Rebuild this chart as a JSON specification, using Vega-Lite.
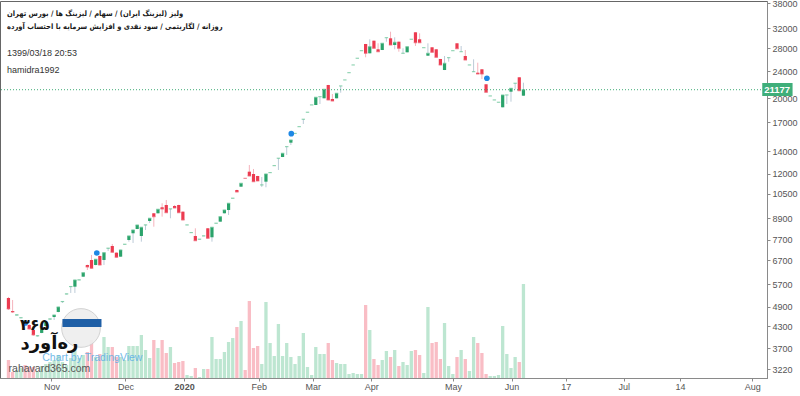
{
  "$schema": "https://vega.github.io/schema/vega-lite/v6.json",
  "width": 767,
  "height": 377,
  "autosize": {"type": "none"},
  "padding": {"left": 0, "top": 1, "right": 33, "bottom": 18},
  "background": "white",
  "config": {
    "view": {"stroke": "#666", "strokeWidth": 1},
    "axis": {"grid": false, "domainColor": "#8a8a8a", "tickColor": "#8a8a8a", "tickSize": 3, "labelColor": "#555", "labelFont": "Liberation Sans", "labelFontSize": 9}
  },
  "title": {
    "text": ["ولیز (لیزینگ ایران) / سهام / لیزینگ ها / بورس تهران", "روزانه / لگاریتمی / سود نقدی و افزایش سرمایه با احتساب آورده"],
    "subtitle": ["1399/03/18 20:53", "hamidra1992"],
    "anchor": "start", "frame": "group", "orient": "top", "offset": -76, "dx": 7,
    "font": "DejaVu Sans Condensed, DejaVu Sans", "fontSize": 7.5, "fontWeight": "bold", "color": "#1a1a1a", "lineHeight": 13,
    "subtitleFont": "Liberation Sans", "subtitleFontSize": 9, "subtitleColor": "#333", "subtitleLineHeight": 17, "subtitlePadding": 19
  },
  "datasets": {
    "candles": [
      {"i":0,"o":5200,"h":5235,"l":4795,"c":4828,"vol":18},
      {"i":1,"o":4763,"h":5130,"l":4699,"c":4731,"vol":6},
      {"i":2,"o":4630,"h":4645,"l":4625,"c":4640,"vol":8},
      {"i":3,"o":4545,"h":4555,"l":4530,"c":4550,"vol":10},
      {"i":4,"o":4440,"h":4450,"l":4405,"c":4415,"vol":13},
      {"i":5,"o":4334,"h":4360,"l":4200,"c":4219,"vol":11},
      {"i":6,"o":4190,"h":4210,"l":4030,"c":4052,"vol":11},
      {"i":7,"o":4020,"h":4040,"l":4010,"c":4030,"vol":6},
      {"i":8,"o":4107,"h":4230,"l":4100,"c":4219,"vol":12},
      {"i":9,"o":4305,"h":4430,"l":4290,"c":4422,"vol":14},
      {"i":10,"o":4505,"h":4520,"l":4500,"c":4515,"vol":16},
      {"i":11,"o":4574,"h":4640,"l":4482,"c":4636,"vol":18},
      {"i":12,"o":4731,"h":4900,"l":4720,"c":4893,"vol":23},
      {"i":13,"o":5065,"h":5080,"l":5027,"c":5075,"vol":16},
      {"i":14,"o":5335,"h":5350,"l":5330,"c":5345,"vol":13},
      {"i":15,"o":5605,"h":5620,"l":5378,"c":5615,"vol":20},
      {"i":16,"o":5611,"h":5880,"l":5378,"c":5870,"vol":28},
      {"i":17,"o":5865,"h":5880,"l":5860,"c":5875,"vol":20},
      {"i":18,"o":6002,"h":6175,"l":5995,"c":6166,"vol":23},
      {"i":19,"o":6495,"h":6510,"l":6279,"c":6408,"vol":26},
      {"i":20,"o":6718,"h":6949,"l":6340,"c":6352,"vol":38},
      {"i":21,"o":6495,"h":6760,"l":6480,"c":6750,"vol":21},
      {"i":22,"o":6902,"h":6920,"l":6480,"c":6495,"vol":24},
      {"i":23,"o":6718,"h":7070,"l":6495,"c":7057,"vol":41},
      {"i":24,"o":7265,"h":7280,"l":7138,"c":7275,"vol":31},
      {"i":25,"o":7383,"h":7483,"l":7060,"c":7076,"vol":31},
      {"i":26,"o":7057,"h":7070,"l":6830,"c":6842,"vol":21},
      {"i":27,"o":6869,"h":7200,"l":6860,"c":7187,"vol":21},
      {"i":28,"o":7460,"h":7475,"l":7455,"c":7470,"vol":18},
      {"i":29,"o":7687,"h":7905,"l":7600,"c":7898,"vol":32},
      {"i":30,"o":8043,"h":8235,"l":7534,"c":8224,"vol":32},
      {"i":31,"o":8279,"h":8515,"l":8270,"c":8506,"vol":32},
      {"i":32,"o":7898,"h":8390,"l":7600,"c":8375,"vol":43},
      {"i":33,"o":8500,"h":8515,"l":8224,"c":8510,"vol":28},
      {"i":34,"o":8738,"h":8910,"l":8621,"c":8899,"vol":20},
      {"i":35,"o":9204,"h":9220,"l":8409,"c":8996,"vol":38},
      {"i":36,"o":9204,"h":9470,"l":9190,"c":9456,"vol":30},
      {"i":37,"o":9584,"h":9846,"l":8996,"c":9475,"vol":38},
      {"i":38,"o":9734,"h":10068,"l":9230,"c":9242,"vol":25},
      {"i":39,"o":9470,"h":9485,"l":8899,"c":9480,"vol":31},
      {"i":40,"o":9668,"h":9734,"l":9530,"c":9539,"vol":15},
      {"i":41,"o":9734,"h":9750,"l":9230,"c":9242,"vol":16},
      {"i":42,"o":9304,"h":9320,"l":8780,"c":8798,"vol":17},
      {"i":43,"o":8500,"h":8515,"l":8495,"c":8510,"vol":3},
      {"i":44,"o":8070,"h":8085,"l":8065,"c":8080,"vol":2},
      {"i":45,"o":7898,"h":8318,"l":7640,"c":7651,"vol":10},
      {"i":46,"o":7720,"h":7735,"l":7715,"c":7730,"vol":1},
      {"i":47,"o":7893,"h":7908,"l":7888,"c":7903,"vol":9},
      {"i":48,"o":8318,"h":8330,"l":7765,"c":7776,"vol":9},
      {"i":49,"o":7829,"h":8390,"l":7600,"c":8375,"vol":41},
      {"i":50,"o":8600,"h":8615,"l":8595,"c":8610,"vol":19},
      {"i":51,"o":8698,"h":9005,"l":8690,"c":8996,"vol":19},
      {"i":52,"o":9204,"h":9420,"l":9195,"c":9411,"vol":26},
      {"i":53,"o":9411,"h":9860,"l":9099,"c":9846,"vol":36},
      {"i":54,"o":10180,"h":10195,"l":10175,"c":10190,"vol":40},
      {"i":55,"o":10770,"h":10790,"l":10610,"c":10625,"vol":51},
      {"i":56,"o":11012,"h":11280,"l":11000,"c":11267,"vol":57},
      {"i":57,"o":11660,"h":11665,"l":11645,"c":11650,"vol":8},
      {"i":58,"o":12184,"h":12747,"l":11825,"c":11836,"vol":77},
      {"i":59,"o":11997,"h":12408,"l":11380,"c":11390,"vol":30},
      {"i":60,"o":11836,"h":11850,"l":11430,"c":11444,"vol":32},
      {"i":61,"o":11134,"h":11757,"l":10990,"c":11144,"vol":14},
      {"i":62,"o":11390,"h":12010,"l":10967,"c":11997,"vol":76},
      {"i":63,"o":12098,"h":12113,"l":12093,"c":12108,"vol":35},
      {"i":64,"o":12682,"h":12697,"l":12677,"c":12692,"vol":22},
      {"i":65,"o":13331,"h":13346,"l":12324,"c":13341,"vol":54},
      {"i":66,"o":13453,"h":13800,"l":13440,"c":13793,"vol":22},
      {"i":67,"o":14416,"h":14431,"l":13636,"c":14426,"vol":35},
      {"i":68,"o":14815,"h":15100,"l":14587,"c":15087,"vol":21},
      {"i":69,"o":15759,"h":15774,"l":15754,"c":15769,"vol":14},
      {"i":70,"o":16498,"h":16513,"l":16493,"c":16508,"vol":22},
      {"i":71,"o":17342,"h":17357,"l":16806,"c":17352,"vol":45},
      {"i":72,"o":18182,"h":18197,"l":18177,"c":18192,"vol":11},
      {"i":73,"o":19099,"h":19114,"l":19094,"c":19109,"vol":3},
      {"i":74,"o":19104,"h":20135,"l":19090,"c":20121,"vol":31},
      {"i":75,"o":20198,"h":20213,"l":19233,"c":20208,"vol":24},
      {"i":76,"o":19986,"h":21250,"l":19975,"c":21236,"vol":24},
      {"i":77,"o":21861,"h":21880,"l":19740,"c":19758,"vol":35},
      {"i":78,"o":19892,"h":20574,"l":19610,"c":19625,"vol":18},
      {"i":79,"o":19986,"h":20685,"l":19975,"c":20671,"vol":15},
      {"i":80,"o":21709,"h":21724,"l":20755,"c":21719,"vol":14},
      {"i":81,"o":22606,"h":22621,"l":22601,"c":22616,"vol":14},
      {"i":82,"o":23746,"h":23761,"l":23741,"c":23756,"vol":4},
      {"i":83,"o":25012,"h":25027,"l":25007,"c":25022,"vol":5},
      {"i":84,"o":26168,"h":26183,"l":26163,"c":26178,"vol":4},
      {"i":85,"o":27544,"h":27559,"l":27539,"c":27554,"vol":4},
      {"i":86,"o":28822,"h":28840,"l":26350,"c":27070,"vol":73},
      {"i":87,"o":27070,"h":29750,"l":27050,"c":28302,"vol":48},
      {"i":88,"o":29471,"h":29490,"l":27980,"c":27999,"vol":19},
      {"i":89,"o":27810,"h":28958,"l":27350,"c":27364,"vol":13},
      {"i":90,"o":27679,"h":28970,"l":27660,"c":28958,"vol":18},
      {"i":91,"o":30068,"h":30083,"l":29273,"c":30078,"vol":27},
      {"i":92,"o":29951,"h":31315,"l":28610,"c":28628,"vol":21},
      {"i":93,"o":28628,"h":30154,"l":27810,"c":29154,"vol":28},
      {"i":94,"o":29273,"h":29290,"l":27364,"c":27999,"vol":12},
      {"i":95,"o":27065,"h":27999,"l":27060,"c":27075,"vol":16},
      {"i":96,"o":27253,"h":28320,"l":27240,"c":28302,"vol":13},
      {"i":97,"o":29745,"h":29760,"l":29740,"c":29755,"vol":27},
      {"i":98,"o":31188,"h":31210,"l":28436,"c":29076,"vol":28},
      {"i":99,"o":29750,"h":30978,"l":29060,"c":29076,"vol":23},
      {"i":100,"o":28107,"h":28122,"l":28102,"c":28117,"vol":5},
      {"i":101,"o":26635,"h":28958,"l":26620,"c":27070,"vol":71},
      {"i":102,"o":28188,"h":28200,"l":27240,"c":27253,"vol":35},
      {"i":103,"o":27810,"h":27830,"l":26330,"c":26350,"vol":36},
      {"i":104,"o":26049,"h":26070,"l":25000,"c":25017,"vol":19},
      {"i":105,"o":24188,"h":26582,"l":24170,"c":25306,"vol":55},
      {"i":106,"o":26274,"h":26289,"l":25580,"c":26284,"vol":12},
      {"i":107,"o":27544,"h":27559,"l":27539,"c":27554,"vol":4},
      {"i":108,"o":28958,"h":28975,"l":27905,"c":27923,"vol":21},
      {"i":109,"o":27359,"h":28436,"l":27354,"c":27369,"vol":28},
      {"i":110,"o":26582,"h":27679,"l":25860,"c":25875,"vol":19},
      {"i":111,"o":25012,"h":25027,"l":25007,"c":25022,"vol":7},
      {"i":112,"o":23907,"h":25997,"l":23902,"c":23917,"vol":41},
      {"i":113,"o":23751,"h":25408,"l":23530,"c":23544,"vol":35},
      {"i":114,"o":24302,"h":24320,"l":22764,"c":23544,"vol":25},
      {"i":115,"o":21965,"h":21980,"l":20795,"c":20811,"vol":4},
      {"i":116,"o":20293,"h":20308,"l":20288,"c":20303,"vol":2},
      {"i":117,"o":19753,"h":19768,"l":19748,"c":19763,"vol":2},
      {"i":118,"o":19450,"h":19465,"l":19445,"c":19460,"vol":3},
      {"i":119,"o":18810,"h":20450,"l":18795,"c":20435,"vol":52},
      {"i":120,"o":20430,"h":20445,"l":19233,"c":20440,"vol":24},
      {"i":121,"o":20896,"h":21395,"l":19533,"c":21380,"vol":10},
      {"i":122,"o":22108,"h":22123,"l":21236,"c":22118,"vol":21},
      {"i":123,"o":23026,"h":23040,"l":21020,"c":21037,"vol":16},
      {"i":124,"o":20339,"h":22203,"l":20325,"c":21177,"vol":94}
    ],
    "dots": [
      {"i":4.04,"p":4393},
      {"i":21.27,"p":7043},
      {"i":68.1,"p":15742},
      {"i":115.2,"p":22871}
    ]
  },
  "layer": [
    {
      "data": {"name": "candles"},
      "mark": {"type": "bar", "size": 3.3},
      "encoding": {
        "x": {"field": "i", "type": "quantitative",
          "scale": {"domain": [-0.832, 181.44], "nice": false, "zero": false},
          "axis": {"title": null, "orient": "bottom", "values": [10.34, 28.16, 42.3, 60.24, 73.24, 87.33, 107.06, 121.15, 134.2, 148.17, 161.7, 179.1],
            "labelExpr": "datum.value < 20 ? 'Nov' : datum.value < 35 ? 'Dec' : datum.value < 50 ? '2020' : datum.value < 65 ? 'Feb' : datum.value < 80 ? 'Mar' : datum.value < 95 ? 'Apr' : datum.value < 115 ? 'May' : datum.value < 128 ? 'Jun' : datum.value < 140 ? '17' : datum.value < 155 ? 'Jul' : datum.value < 170 ? '14' : 'Aug'",
            "labelFontWeight": {"condition": {"test": "datum.value == 42.3", "value": "bold"}, "value": "normal"},
            "labelPadding": 1, "labelFlush": false, "labelOverlap": false}},
        "y": {"field": "vol", "type": "quantitative", "scale": {"domain": [0, 377], "nice": false}, "axis": null},
        "color": {"condition": {"test": "datum.c >= datum.o", "value": "#bde6d1"}, "value": "#f9bdc5"}
      }
    },
    {
      "data": {"name": "candles"},
      "mark": {"type": "rule", "strokeWidth": 1},
      "encoding": {
        "x": {"field": "i", "type": "quantitative"},
        "y": {"field": "l", "type": "quantitative",
          "scale": {"type": "log", "domain": [3031, 38516], "nice": false},
          "axis": {"title": null, "orient": "right", "values": [3220, 3700, 4300, 4900, 5700, 6700, 7700, 8900, 10500, 12000, 14000, 17000, 20000, 24000, 28000, 32000, 38000],
            "format": "d", "labelPadding": 2}},
        "y2": {"field": "h"},
        "color": {"condition": {"test": "datum.c >= datum.o", "value": "#bccbd8"}, "value": "#f5b3bc"}
      }
    },
    {
      "data": {"name": "candles"},
      "mark": {"type": "bar", "size": 3.2},
      "encoding": {
        "x": {"field": "i", "type": "quantitative"},
        "y": {"field": "o", "type": "quantitative", "scale": {"type": "log", "domain": [3031, 38516], "nice": false}, "axis": null},
        "y2": {"field": "c"},
        "color": {"condition": {"test": "datum.c >= datum.o", "value": "#2ba36b"}, "value": "#ec3b50"}
      }
    },
    {
      "data": {"name": "candles"},
      "mark": {"type": "tick", "orient": "horizontal", "size": 3.4, "thickness": 1.2},
      "encoding": {
        "x": {"field": "i", "type": "quantitative"},
        "y": {"field": "c", "type": "quantitative", "scale": {"type": "log", "domain": [3031, 38516], "nice": false}, "axis": null},
        "color": {"condition": {"test": "datum.c >= datum.o", "value": "#6cc69a"}, "value": "#ee6677"}
      }
    },
    {
      "data": {"values": [{"price": 21177}]},
      "mark": {"type": "rule", "strokeDash": [1, 2], "color": "#41ad78", "strokeWidth": 1},
      "encoding": {"y": {"field": "price", "type": "quantitative", "scale": {"type": "log", "domain": [3031, 38516], "nice": false}, "axis": null}}
    },
    {
      "data": {"name": "dots"},
      "mark": {"type": "point", "filled": true, "opacity": 1, "size": 32, "color": "#1e88e5"},
      "encoding": {
        "x": {"field": "i", "type": "quantitative"},
        "y": {"field": "p", "type": "quantitative", "scale": {"type": "log", "domain": [3031, 38516], "nice": false}, "axis": null}
      }
    },
    {
      "data": {"values": [{}]},
      "mark": {"type": "rect", "color": "#3fae7a"},
      "encoding": {
        "x": {"datum": 181.5, "type": "quantitative"}, "x2": {"datum": 188.8},
        "y": {"datum": 20298, "type": "quantitative", "scale": {"type": "log", "domain": [3031, 38516], "nice": false}, "axis": null}, "y2": {"datum": 22158}
      }
    },
    {
      "data": {"values": [{"price": 21177}]},
      "mark": {"type": "text", "color": "white", "fontWeight": "bold", "fontSize": 9.5, "font": "Liberation Sans"},
      "encoding": {
        "x": {"datum": 185.1, "type": "quantitative"},
        "y": {"field": "price", "type": "quantitative", "scale": {"type": "log", "domain": [3031, 38516], "nice": false}, "axis": null},
        "text": {"field": "price", "type": "quantitative", "format": "d"}
      }
    },
    {
      "data": {"values": [{}]},
      "mark": {"type": "point", "shape": "circle", "filled": true, "size": 1500, "color": "#eeeeee", "opacity": 0.92, "stroke": "#d0d0d0", "strokeWidth": 1},
      "encoding": {"x": {"datum": 17.47, "type": "quantitative"}, "y": {"datum": 4247, "type": "quantitative", "scale": {"type": "log", "domain": [3031, 38516], "nice": false}, "axis": null}}
    },
    {
      "data": {"values": [{}]},
      "mark": {"type": "rule", "strokeWidth": 8, "color": "#1f5fa6"},
      "encoding": {"x": {"datum": 13.0, "type": "quantitative"}, "x2": {"datum": 22.4}, "y": {"datum": 4393, "type": "quantitative", "scale": {"type": "log", "domain": [3031, 38516], "nice": false}, "axis": null}}
    },
    {
      "data": {"values": [{}]},
      "mark": {"type": "text", "font": "DejaVu Sans", "fontSize": 16, "fontWeight": "bold", "color": "#111"},
      "encoding": {"x": {"datum": 6.3, "type": "quantitative"}, "y": {"datum": 4330, "type": "quantitative", "scale": {"type": "log", "domain": [3031, 38516], "nice": false}, "axis": null}, "text": {"value": "۳۶۵"}}
    },
    {
      "data": {"values": [{}]},
      "mark": {"type": "text", "font": "DejaVu Sans", "fontSize": 18, "fontWeight": "bold", "color": "#111"},
      "encoding": {"x": {"datum": 9.86, "type": "quantitative"}, "y": {"datum": 3800, "type": "quantitative", "scale": {"type": "log", "domain": [3031, 38516], "nice": false}, "axis": null}, "text": {"value": "ره\u200cآورد"}}
    },
    {
      "data": {"values": [{}]},
      "mark": {"type": "text", "font": "Liberation Sans", "fontSize": 10.5, "color": "#5aaee6", "opacity": 0.85},
      "encoding": {"x": {"datum": 20.2, "type": "quantitative"}, "y": {"datum": 3470, "type": "quantitative", "scale": {"type": "log", "domain": [3031, 38516], "nice": false}, "axis": null}, "text": {"value": "Chart by TradingView"}}
    },
    {
      "data": {"values": [{}]},
      "mark": {"type": "text", "font": "Liberation Sans", "fontSize": 10.5, "color": "#555"},
      "encoding": {"x": {"datum": 9.86, "type": "quantitative"}, "y": {"datum": 3222, "type": "quantitative", "scale": {"type": "log", "domain": [3031, 38516], "nice": false}, "axis": null}, "text": {"value": "rahavard365.com"}}
    }
  ],
  "resolve": {"scale": {"y": "independent"}}
}
